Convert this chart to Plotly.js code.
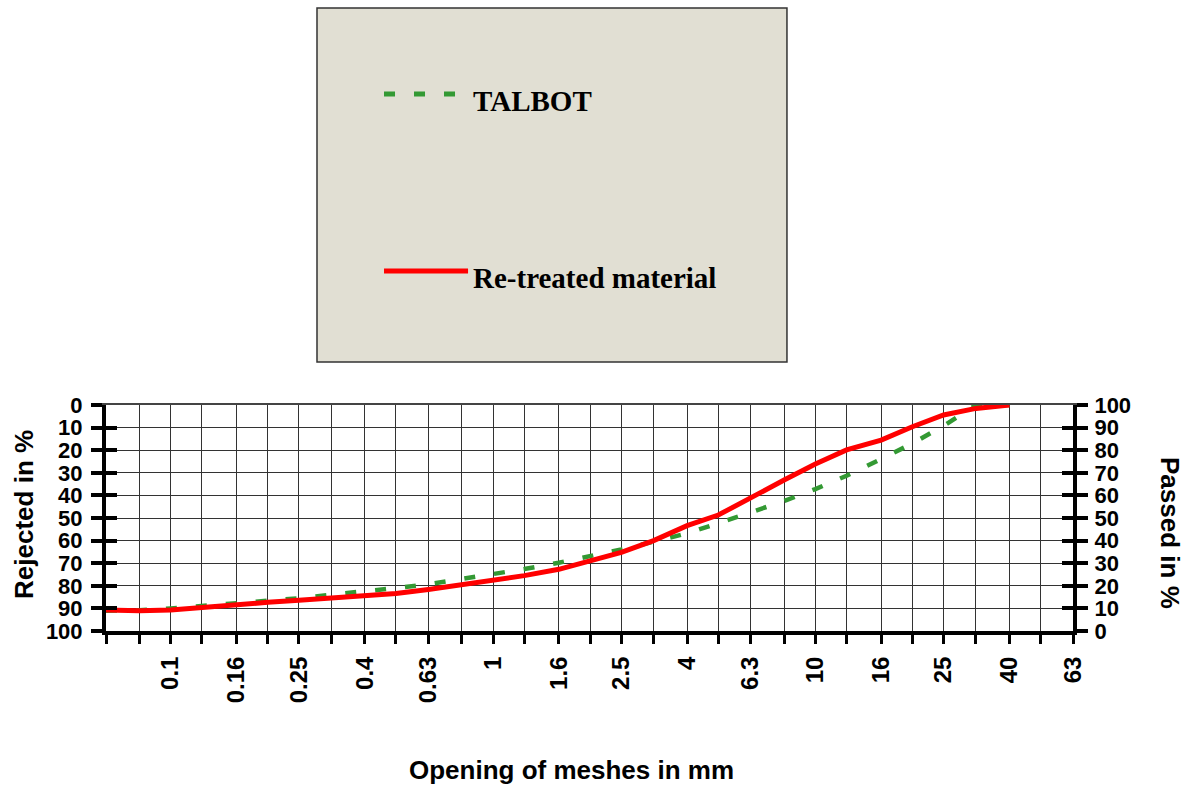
<!DOCTYPE html>
<html>
<head>
<meta charset="utf-8">
<script src="https://cdn.plot.ly/plotly-3.0.1.min.js"></script>
<style>html,body{margin:0;padding:0;background:#fff;}#chart{width:1187px;height:787px;}</style>
</head>
<body>
<div id="chart"></div>
<script>
// ---- data ----
const sieveSizes = [0.063, 0.08, 0.1, 0.125, 0.16, 0.2, 0.25, 0.315, 0.4, 0.5, 0.63, 0.8, 1, 1.25, 1.6, 2, 2.5, 3.15, 4, 5, 6.3, 8, 10, 12.5, 16, 20, 25, 31.5, 40, 50, 63];
const sieveLabels = ['', '', '0.1', '', '0.16', '', '0.25', '', '0.4', '', '0.63', '', '1', '', '1.6', '', '2.5', '', '4', '', '6.3', '', '10', '', '16', '', '25', '', '40', '', '63'];
const curveSizes = [0.063, 0.08, 0.1, 0.125, 0.16, 0.2, 0.25, 0.315, 0.4, 0.5, 0.63, 0.8, 1, 1.25, 1.6, 2, 2.5, 3.15, 4, 5, 6.3, 8, 10, 12.5, 16, 20, 25, 31.5, 40];
const talbotPassed = [9.0, 9.2, 10.0, 11.0, 12.2, 13.4, 14.5, 16.1, 17.4, 19.0, 20.7, 22.9, 25.1, 27.4, 30.2, 32.9, 36.1, 39.5, 43.2, 47.7, 52.3, 57.5, 62.8, 68.7, 76.1, 83.0, 90.8, 100, 100];
const retreatedPassed = [9.3, 9.0, 9.3, 10.5, 11.5, 12.7, 13.6, 14.6, 15.6, 16.6, 18.4, 20.5, 22.3, 24.5, 27.3, 31.1, 34.8, 40.0, 46.6, 51.3, 59.2, 66.8, 73.9, 80.1, 84.5, 90.4, 95.6, 98.5, 100];
const percentTicks = [0, 10, 20, 30, 40, 50, 60, 70, 80, 90, 100];
const seriesNames = ['TALBOT', 'Re-treated material'];
const axisTitles = {x: 'Opening of meshes in mm', left: 'Rejected in %', right: 'Passed in %'};

// ---- styles ----
const sans = '"Liberation Sans", Arial, sans-serif';
const serif = '"Liberation Serif", "Times New Roman", serif';
const tickFont = {family: sans, size: 22, color: '#000', weight: 'bold'};
const xTickFont = {family: sans, size: 24, color: '#000', weight: 'bold'};
const titleFont = {family: sans, size: 26, color: '#000', weight: 'bold'};
const legFont = {family: serif, size: 29, color: '#000', weight: 'bold'};
const xRange = [Math.log10(sieveSizes[0]), Math.log10(sieveSizes[sieveSizes.length - 1])];

// empty helper traces so that every axis (frame, inner ticks) is drawn
function axisHolder(xa, ya) {
  return {x: [], y: [], type: 'scatter', mode: 'lines', xaxis: xa, yaxis: ya, showlegend: false, hoverinfo: 'skip'};
}

const traces = [
  axisHolder('x', 'y'),
  axisHolder('x', 'y3'),
  axisHolder('x', 'y4'),
  axisHolder('x2', 'y'),
  {x: curveSizes, y: talbotPassed, name: seriesNames[0], type: 'scatter', mode: 'lines',
   xaxis: 'x', yaxis: 'y2', line: {color: '#339933', width: 4.5, dash: '11px,19px'}, hoverinfo: 'x+y'},
  {x: curveSizes, y: retreatedPassed, name: seriesNames[1], type: 'scatter', mode: 'lines',
   xaxis: 'x', yaxis: 'y2', line: {color: '#ff0000', width: 5}, hoverinfo: 'x+y'}
];

const yCommon = {tickmode: 'array', tickvals: percentTicks, zeroline: false, automargin: false, fixedrange: true};

const layout = {
  width: 1187, height: 787,
  margin: {l: 106, r: 114, t: 405, b: 156, pad: 0},
  paper_bgcolor: '#ffffff', plot_bgcolor: '#ffffff',
  showlegend: false,
  xaxis: {type: 'log', range: xRange, tickmode: 'array', tickvals: sieveSizes, ticktext: sieveLabels,
    tickangle: -90, tickfont: xTickFont, ticks: 'outside', ticklen: 9, tickwidth: 3, tickcolor: '#000',
    ticklabelstandoff: 3,
    showline: true, linewidth: 4, linecolor: '#000', showgrid: true, gridcolor: '#333', gridwidth: 1,
    zeroline: false, automargin: false, fixedrange: true, anchor: 'y'},
  xaxis2: {type: 'log', range: xRange, overlaying: 'x', side: 'top', anchor: 'y', showline: true, linewidth: 2,
    linecolor: '#444', showticklabels: false, ticks: '', showgrid: false, zeroline: false, fixedrange: true},
  yaxis: Object.assign({}, yCommon, {range: [100, 0], side: 'left', anchor: 'x', ticks: 'outside', ticklen: 11,
    tickwidth: 4, tickcolor: '#000', tickfont: tickFont, ticklabelstandoff: 4,
    showline: true, linewidth: 4, linecolor: '#000', showgrid: true, gridcolor: '#333', gridwidth: 1}),
  yaxis2: Object.assign({}, yCommon, {range: [0, 100], side: 'right', overlaying: 'y', anchor: 'x', ticks: 'outside',
    ticklen: 11, tickwidth: 4, tickcolor: '#000', tickfont: tickFont, ticklabelstandoff: 2,
    showline: true, linewidth: 4, linecolor: '#000', showgrid: false}),
  yaxis3: Object.assign({}, yCommon, {range: [100, 0], side: 'left', overlaying: 'y', anchor: 'x', ticks: 'inside',
    ticklen: 11, tickwidth: 4, tickcolor: '#000', showticklabels: false, showline: false, showgrid: false}),
  yaxis4: Object.assign({}, yCommon, {range: [0, 100], side: 'right', overlaying: 'y', anchor: 'x', ticks: 'inside',
    ticklen: 11, tickwidth: 4, tickcolor: '#000', showticklabels: false, showline: false, showgrid: false}),
  shapes: [
    // legend box
    {type: 'rect', xref: 'paper', yref: 'paper', x0: 0.2182, x1: 0.7042, y0: 1.190, y1: 2.757,
     fillcolor: '#e1dfd3', line: {color: '#333', width: 1.5}, layer: 'above'},
    // legend samples
    {type: 'line', xref: 'paper', yref: 'paper', x0: 0.2875, x1: 0.3619, y0: 2.376, y1: 2.376,
     line: {color: '#339933', width: 5, dash: '11px,19px'}},
    {type: 'line', xref: 'paper', yref: 'paper', x0: 0.2875, x1: 0.3744, y0: 1.593, y1: 1.593,
     line: {color: '#ff0000', width: 5}}
  ],
  annotations: [
    {text: seriesNames[0], xref: 'paper', yref: 'paper', x: 0.3775, y: 2.344, xanchor: 'left', yanchor: 'middle',
     showarrow: false, font: legFont},
    {text: seriesNames[1], xref: 'paper', yref: 'paper', x: 0.3775, y: 1.562, xanchor: 'left', yanchor: 'middle',
     showarrow: false, font: legFont},
    {text: axisTitles.x, xref: 'paper', yref: 'paper', x: 0.481, y: -0.615, xanchor: 'center', yanchor: 'middle',
     showarrow: false, font: titleFont},
    {text: axisTitles.left, xref: 'paper', yref: 'paper', x: -0.0848, y: 0.518, xanchor: 'center', yanchor: 'middle',
     textangle: -90, showarrow: false, font: titleFont},
    {text: axisTitles.right, xref: 'paper', yref: 'paper', x: 1.1003, y: 0.4336, xanchor: 'center', yanchor: 'middle',
     textangle: 90, showarrow: false, font: titleFont}
  ]
};

Plotly.newPlot('chart', traces, layout, {displayModeBar: false, staticPlot: true});
</script>
</body>
</html>
